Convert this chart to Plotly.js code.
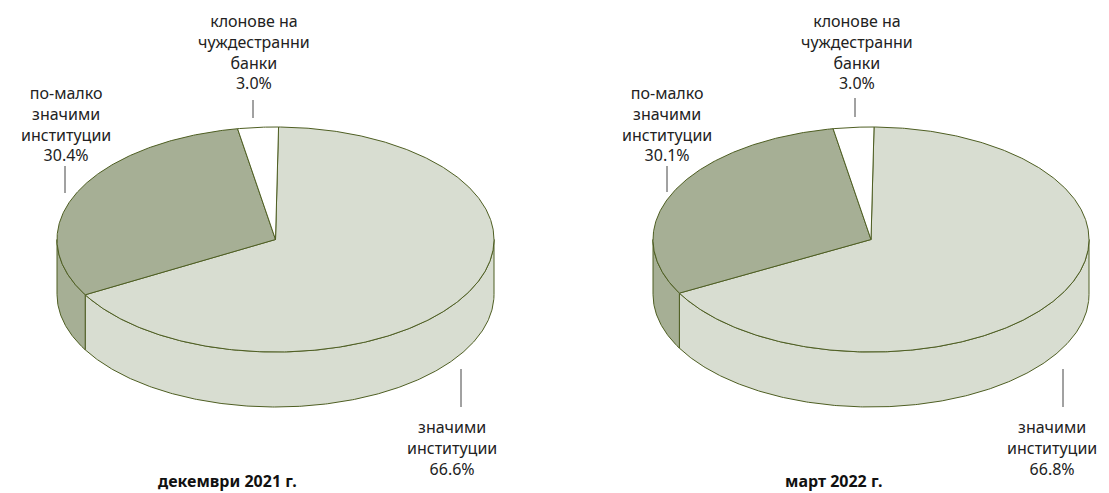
<!DOCTYPE html>
<html lang="bg">
<head>
<meta charset="utf-8">
<script src="https://cdn.plot.ly/plotly-3.0.1.min.js"></script>
<style>html,body{margin:0;padding:0;background:#fff;}#chart{width:1109px;height:493px;}</style>
</head>
<body>
<div id="chart"></div>
<script>
// ---- data ----
const categories = ["значими<br>институции", "по-малко<br>значими<br>институции", "клонове на<br>чуждестранни<br>банки"];
const valuesDec2021 = [66.6, 30.4, 3.0];
const valuesMar2022 = [66.8, 30.1, 3.0];
const periodLabels = ["декември 2021 г.", "март 2022 г."];
const sliceColors = ["#d8ddd1", "#a6af95", "#ffffff"];

// ---- layout geometry (pixel space) ----
const pies = [
  {values: valuesDec2021, title: periodLabels[0], cx: 275.5, cy: 239.5, rx: 218.5, ry: 112.5, depth: 55, start: 0.8,
   labelPos: [[452, 448], [66, 124], [254, 52]],
   leaders: [[461, 369, 461, 407], [65, 166, 65, 193], [253, 100, 253, 118]],
   titlePos: [227, 493]},
  {values: valuesMar2022, title: periodLabels[1], cx: 871, cy: 239.5, rx: 218, ry: 112.5, depth: 55, start: 0.8,
   labelPos: [[1052, 448], [667, 124], [857, 52]],
   leaders: [[1063, 369, 1063, 407], [667, 166, 667, 192], [855, 98, 855, 117]],
   titlePos: [833, 493]}
];

const edgeColor = "#4e5e22";
const labelFont = {family: "Noto Sans, sans-serif", size: 16, color: "#222"};

function pt(g, deg, dy) {
  const r = deg * Math.PI / 180;
  return [g.cx + g.rx * Math.sin(r), g.cy - g.ry * Math.cos(r) + dy];
}
function arc(g, a, b, dy) {
  const out = [];
  const n = Math.max(2, Math.ceil(Math.abs(b - a) / 0.5));
  for (let i = 0; i <= n; i++) out.push(pt(g, a + (b - a) * i / n, dy));
  return out;
}

const sideTraces = [];
const topTraces = [];
const annotations = [];
const shapes = [];

pies.forEach(g => {
  const total = g.values.reduce((s, v) => s + v, 0);
  let ang = g.start;
  g.values.forEach((v, i) => {
    const a = ang, b = ang + 360 * v / total;
    ang = b;
    // side wall (visible front half: 90..270 deg clockwise from top)
    const s = Math.max(a, 90), e = Math.min(b, 270);
    if (s < e) {
      const pts = arc(g, s, e, 0).concat(arc(g, e, s, g.depth));
      pts.push(pts[0]);
      sideTraces.push({type: "scatter", mode: "lines", x: pts.map(p => p[0]), y: pts.map(p => p[1]),
        fill: "toself", fillcolor: sliceColors[i], line: {color: edgeColor, width: 1}, hoverinfo: "skip", showlegend: false});
    }
    const tp = [[g.cx, g.cy]].concat(arc(g, a, b, 0));
    tp.push([g.cx, g.cy]);
    topTraces.push({type: "scatter", mode: "lines", x: tp.map(p => p[0]), y: tp.map(p => p[1]),
      fill: "toself", fillcolor: sliceColors[i], line: {color: edgeColor, width: 1}, hoverinfo: "skip", showlegend: false});
    annotations.push({x: g.labelPos[i][0], y: g.labelPos[i][1], xref: "x", yref: "y", showarrow: false,
      text: categories[i] + "<br>" + v.toFixed(1) + "%", align: "center", xanchor: "center", yanchor: "middle",
      font: labelFont, borderpad: 0});
    const L = g.leaders[i];
    shapes.push({type: "line", xref: "x", yref: "y", x0: L[0], y0: L[1], x1: L[2], y1: L[3], line: {color: "#444", width: 1}});
  });
  annotations.push({x: g.titlePos[0], y: g.titlePos[1], xref: "x", yref: "y", showarrow: false,
    text: "<b>" + g.title + "</b>", xanchor: "center", yanchor: "bottom", borderpad: 0,
    font: {family: "Noto Sans, sans-serif", size: 16, color: "#111"}});
});

const layout = {
  width: 1109, height: 493,
  margin: {l: 0, r: 0, t: 0, b: 0},
  paper_bgcolor: "#fff", plot_bgcolor: "#fff",
  xaxis: {range: [0, 1109], visible: false, fixedrange: true},
  yaxis: {range: [493, 0], visible: false, fixedrange: true},
  annotations: annotations,
  shapes: shapes,
  showlegend: false
};

Plotly.newPlot("chart", sideTraces.concat(topTraces), layout, {staticPlot: true});
</script>
</body>
</html>
